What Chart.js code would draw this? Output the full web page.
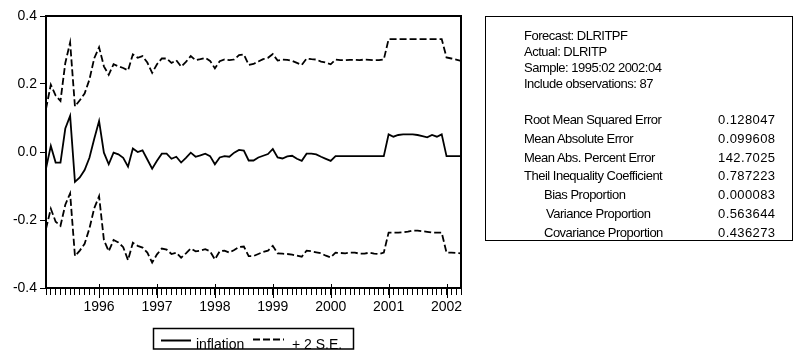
<!DOCTYPE html>
<html>
<head>
<meta charset="utf-8">
<script src="https://cdn.jsdelivr.net/npm/chart.js@4.4.1/dist/chart.umd.min.js"></script>
<style>
    html, body { margin: 0; padding: 0; background: #fff; }
    #wrap { position: relative; width: 796px; height: 350px; overflow: hidden; }
    #chart { position: absolute; left: 0; top: 0; }
    #stats {
        position: absolute; left: 485px; top: 16px; width: 308px; height: 225px;
        border: 1.5px solid #000; box-sizing: border-box;
        font-family: "Liberation Sans", Arial, sans-serif; font-size: 13px; color: #000;
    }
    #stats div { position: absolute; white-space: nowrap; line-height: 14px; }
    #stats .lbl { letter-spacing: -0.5px; }
    #stats .val { letter-spacing: 0.4px; }
</style>
</head>
<body>
<div id="wrap">
    <canvas id="chart" width="796" height="350"></canvas>
    <div id="stats"></div>
</div>
<script>
// monthly sample 1995:02 .. 2002:04 (87 obs), x = month index
const yearLabels = ["1996", "1997", "1998", "1999", "2000", "2001", "2002"];
const yearIndex = [11, 23, 35, 47, 59, 71, 83];
const yTicks = [0.4, 0.2, 0.0, -0.2, -0.4];

const inflation = [
    -0.049, 0.018, -0.031, -0.031, 0.069, 0.106, -0.088, -0.075, -0.053, -0.017, 0.039,
    0.091, -0.002, -0.036, -0.002, -0.007, -0.017, -0.043, 0.010, 0.000, 0.005, -0.022, -0.049, -0.026,
    -0.005, -0.005, -0.020, -0.014, -0.031, -0.017, -0.002, -0.014, -0.010, -0.005, -0.012, -0.036,
    -0.016, -0.012, -0.014, -0.002, 0.006, 0.004, -0.025, -0.025, -0.016, -0.011, -0.006, 0.009,
    -0.016, -0.019, -0.013, -0.011, -0.020, -0.026, -0.005, -0.005, -0.007, -0.014, -0.020, -0.026,
    -0.012, -0.012, -0.012, -0.012, -0.012, -0.012, -0.012, -0.012, -0.012, -0.012, -0.012,
    0.052, 0.045, 0.050, 0.052, 0.052, 0.052, 0.050, 0.047, 0.043, 0.050, 0.045, 0.052,
    -0.012, -0.012, -0.012, -0.012
];
const upperBand = [
    0.127, 0.198, 0.166, 0.150, 0.262, 0.322, 0.134, 0.152, 0.172, 0.213, 0.276,
    0.308, 0.252, 0.227, 0.258, 0.252, 0.247, 0.240, 0.287, 0.277, 0.282, 0.263, 0.233, 0.258,
    0.275, 0.275, 0.262, 0.270, 0.251, 0.265, 0.282, 0.270, 0.273, 0.277, 0.268, 0.246,
    0.267, 0.272, 0.270, 0.272, 0.285, 0.287, 0.256, 0.259, 0.266, 0.273, 0.277, 0.288,
    0.269, 0.272, 0.271, 0.268, 0.262, 0.256, 0.275, 0.273, 0.272, 0.266, 0.263, 0.258,
    0.272, 0.270, 0.270, 0.271, 0.271, 0.270, 0.272, 0.271, 0.270, 0.270, 0.272,
    0.332, 0.332, 0.332, 0.332, 0.332, 0.332, 0.332, 0.332, 0.332, 0.332, 0.332, 0.332,
    0.278, 0.275, 0.272, 0.268
];
const lowerBand = [
    -0.226, -0.167, -0.205, -0.217, -0.155, -0.122, -0.306, -0.290, -0.270, -0.225, -0.165,
    -0.130, -0.259, -0.292, -0.259, -0.266, -0.280, -0.318, -0.267, -0.276, -0.281, -0.296, -0.325, -0.301,
    -0.284, -0.287, -0.300, -0.296, -0.311, -0.298, -0.284, -0.292, -0.290, -0.286, -0.292, -0.316,
    -0.292, -0.290, -0.296, -0.288, -0.279, -0.278, -0.306, -0.306, -0.300, -0.294, -0.290, -0.276,
    -0.298, -0.299, -0.300, -0.302, -0.305, -0.308, -0.290, -0.292, -0.295, -0.298, -0.305, -0.310,
    -0.296, -0.297, -0.298, -0.296, -0.296, -0.299, -0.299, -0.296, -0.299, -0.300, -0.296,
    -0.237, -0.237, -0.237, -0.236, -0.234, -0.231, -0.231, -0.233, -0.235, -0.237, -0.237, -0.237,
    -0.296, -0.296, -0.297, -0.298
];

// forecast evaluation table
const headerLines = ["Forecast: DLRITPF", "Actual: DLRITP", "Sample: 1995:02 2002:04", "Include observations: 87"];
const statNames = ["Root Mean Squared Error", "Mean Absolute Error", "Mean Abs. Percent Error",
    "Theil Inequality Coefficient", "Bias Proportion", "Variance Proportion", "Covariance Proportion"];
const statValues = ["0.128047", "0.099608", "142.7025", "0.787223", "0.000083", "0.563644", "0.436273"];
const statIndent = [0, 0, 0, 0, 20, 22, 20];

var FONT = "'Liberation Sans', Arial, sans-serif";

function toPoints(arr) {
    return arr.map((v, i) => ({ x: i, y: v }));
}

function addText(parent, cls, text, left, top) {
    var d = document.createElement("div");
    d.className = cls;
    d.textContent = text;
    d.style.left = left + "px";
    d.style.top = top + "px";
    parent.appendChild(d);
}

// build the text box
var stats = document.getElementById("stats");
headerLines.forEach((t, k) => addText(stats, "lbl", t, 38, 11.5 + k * 16));
statNames.forEach((t, k) => {
    addText(stats, "lbl", t, 38 + statIndent[k], 96 + k * 18.8);
    addText(stats, "val", statValues[k], 232, 96 + k * 18.8);
});

// frame, long year ticks and the boxed legend
const eviewsDecor = {
    id: "eviewsDecor",
    afterDraw(chart) {
        const ctx = chart.ctx;
        const a = chart.chartArea;
        const xs = chart.scales.x;
        ctx.save();
        ctx.strokeStyle = "#000";
        ctx.lineWidth = 2;
        ctx.strokeRect(a.left, a.top, a.right - a.left, a.bottom - a.top);

        ctx.lineWidth = 1;
        yearIndex.forEach((i) => {
            var px = Math.round(xs.getPixelForValue(i)) + 0.5;
            ctx.beginPath();
            ctx.moveTo(px, a.bottom - 4);
            ctx.lineTo(px, a.bottom + 10);
            ctx.stroke();
        });

        // legend
        ctx.lineWidth = 1.5;
        ctx.strokeRect(153.5, 328.5, 200, 20.5);
        ctx.font = "14px " + FONT;
        ctx.fillStyle = "#000";
        ctx.textBaseline = "alphabetic";
        ctx.lineWidth = 2;
        ctx.beginPath();
        ctx.moveTo(161, 340.5);
        ctx.lineTo(191, 340.5);
        ctx.stroke();
        ctx.fillText(chart.data.datasets[0].label, 196, 349);
        ctx.setLineDash([7, 3]);
        ctx.beginPath();
        ctx.moveTo(253, 339.5);
        ctx.lineTo(284, 339.5);
        ctx.stroke();
        ctx.setLineDash([]);
        ctx.fillText(chart.data.datasets[1].label, 292, 349);
        ctx.restore();
    },
};

const ctx = document.getElementById("chart").getContext("2d");
const forecastChart = new Chart(ctx, {
    type: "line",
    data: {
        datasets: [
            {
                label: "inflation",
                data: toPoints(inflation),
                borderColor: "#000",
                borderWidth: 1.8,
                pointRadius: 0,
                tension: 0,
            },
            {
                label: "+ 2 S.E.",
                data: toPoints(upperBand),
                borderColor: "#000",
                borderWidth: 1.8,
                borderDash: [7, 3],
                pointRadius: 0,
                tension: 0,
            },
            {
                label: "- 2 S.E.",
                data: toPoints(lowerBand),
                borderColor: "#000",
                borderWidth: 1.8,
                borderDash: [7, 3],
                pointRadius: 0,
                tension: 0,
            },
        ],
    },
    options: {
        responsive: false,
        animation: false,
        devicePixelRatio: 1,
        layout: { padding: { top: 16, right: 335, left: 0, bottom: 0 } },
        scales: {
            x: {
                type: "linear",
                min: 0,
                max: 86,
                afterFit: (s) => { s.height = 62; },
                afterBuildTicks: (s) => {
                    s.ticks = inflation.map((v, i) => ({ value: i }));
                },
                ticks: {
                    autoSkip: false,
                    maxRotation: 0,
                    padding: 4,
                    color: "#000",
                    font: { family: FONT, size: 14 },
                    callback: (v) => {
                        var k = yearIndex.indexOf(v);
                        return k >= 0 ? yearLabels[k] : "";
                    },
                },
                grid: { drawOnChartArea: false, tickLength: 7, color: "#000", lineWidth: 1 },
                border: { display: true, color: "#000", width: 2 },
            },
            y: {
                min: -0.4,
                max: 0.4,
                afterFit: (s) => { s.width = 46; },
                afterBuildTicks: (s) => {
                    s.ticks = yTicks.map((v) => ({ value: v }));
                },
                ticks: {
                    padding: 3,
                    color: "#000",
                    font: { family: FONT, size: 14 },
                    callback: (v) => v.toFixed(1),
                },
                grid: { drawOnChartArea: false, tickLength: 6, color: "#000", lineWidth: 1 },
                border: { display: true, color: "#000", width: 2 },
            },
        },
        plugins: {
            legend: { display: false },
            tooltip: { enabled: false },
        },
    },
    plugins: [eviewsDecor],
});
</script>
</body>
</html>
